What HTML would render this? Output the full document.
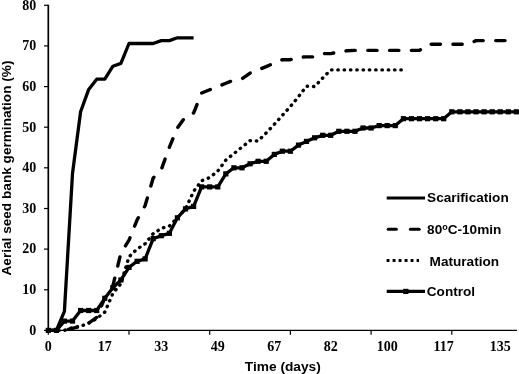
<!DOCTYPE html>
<html><head><meta charset="utf-8"><style>
html,body{margin:0;padding:0;background:#fff;}
body{width:519px;height:374px;overflow:hidden;}
svg{display:block;}
.ser{font-family:"Liberation Serif",serif;font-weight:bold;font-size:14px;fill:#000;}
.sans{font-family:"Liberation Sans",sans-serif;font-weight:bold;font-size:13.6px;fill:#000;}
</style></head><body>
<svg style="will-change:transform" width="519" height="374" viewBox="0 0 519 374">
<rect width="519" height="374" fill="#fff"/>
<g stroke="#000" stroke-width="1.2" fill="none">
<line x1="48.3" x2="48.3" y1="4.7" y2="331" stroke-width="1.7"/>
<line x1="47.5" x2="517" y1="330.4" y2="330.4" stroke-width="1.3"/>
<line x1="44" x2="48.3" y1="330.4" y2="330.4"/><line x1="44" x2="48.3" y1="289.8" y2="289.8"/><line x1="44" x2="48.3" y1="249.1" y2="249.1"/><line x1="44" x2="48.3" y1="208.5" y2="208.5"/><line x1="44" x2="48.3" y1="167.8" y2="167.8"/><line x1="44" x2="48.3" y1="127.2" y2="127.2"/><line x1="44" x2="48.3" y1="86.6" y2="86.6"/><line x1="44" x2="48.3" y1="45.9" y2="45.9"/><line x1="44" x2="48.3" y1="5.3" y2="5.3"/><line x1="48.3" x2="48.3" y1="330.4" y2="334.8"/><line x1="129.0" x2="129.0" y1="330.4" y2="334.8"/><line x1="209.7" x2="209.7" y1="330.4" y2="334.8"/><line x1="290.4" x2="290.4" y1="330.4" y2="334.8"/><line x1="371.1" x2="371.1" y1="330.4" y2="334.8"/><line x1="451.8" x2="451.8" y1="330.4" y2="334.8"/>
</g>
<g class="ser"><text x="36.3" y="334.7" text-anchor="end">0</text><text x="36.3" y="294.1" text-anchor="end">10</text><text x="36.3" y="253.4" text-anchor="end">20</text><text x="36.3" y="212.8" text-anchor="end">30</text><text x="36.3" y="172.1" text-anchor="end">40</text><text x="36.3" y="131.5" text-anchor="end">50</text><text x="36.3" y="90.9" text-anchor="end">60</text><text x="36.3" y="50.2" text-anchor="end">70</text><text x="36.3" y="9.6" text-anchor="end">80</text><text x="48.3" y="350.9" text-anchor="middle">0</text><text x="104.8" y="350.9" text-anchor="middle">17</text><text x="161.3" y="350.9" text-anchor="middle">33</text><text x="217.8" y="350.9" text-anchor="middle">49</text><text x="274.3" y="350.9" text-anchor="middle">67</text><text x="330.8" y="350.9" text-anchor="middle">82</text><text x="387.2" y="350.9" text-anchor="middle">100</text><text x="443.7" y="350.9" text-anchor="middle">117</text><text x="500.2" y="350.9" text-anchor="middle">135</text></g>
<text class="sans" transform="translate(10.7,275.5) rotate(-90)" textLength="215" lengthAdjust="spacingAndGlyphs">Aerial seed bank germination (%)</text>
<text class="sans" x="244.8" y="370.6" textLength="76" lengthAdjust="spacingAndGlyphs">Time (days)</text>
<g fill="none" stroke="#000" stroke-linejoin="round">
<polyline points="48.3,330.4 56.4,330.4 64.4,311.3 72.5,173.5 80.6,111.8 88.7,89.4 96.7,79.2 104.8,79.2 112.9,66.2 120.9,63.4 129.0,43.5 137.1,43.5 145.1,43.5 153.2,43.5 161.3,40.6 169.4,40.6 177.4,37.8 185.5,37.8 193.6,37.8" stroke-width="3.3"/>
<polyline points="48.3,330.4 56.4,330.4 64.4,330.4 72.5,328.4 80.6,326.3 88.7,323.1 96.7,317.4 104.8,297.9 112.9,285.7 120.9,253.2 129.0,240.2 137.1,219.9 145.1,205.6 153.2,178.0 161.3,169.5 169.4,147.1 177.4,128.0 185.5,116.6 193.6,113.0 201.6,93.1 209.7,89.8 217.8,86.6 225.8,83.3 233.9,80.1 242.0,78.8 250.1,73.1 258.1,69.9 266.2,66.6 274.3,63.0 282.3,59.7 290.4,59.7 298.5,57.3 306.5,56.9 314.6,56.9 322.7,53.6 330.8,53.6 338.8,52.0 346.9,50.8 355.0,50.4 363.0,50.4 371.1,50.4 379.2,50.4 387.2,50.4 395.3,50.4 403.4,50.4 411.5,50.4 419.5,50.4 427.6,44.3 435.7,44.3 443.7,44.3 451.8,44.3 459.9,44.3 467.9,44.3 476.0,40.6 484.1,40.6 492.2,40.6 500.2,40.6 508.3,40.6" stroke-width="3.4" stroke-dasharray="9.3 12.5" stroke-dashoffset="1.6" stroke-linecap="round"/>
<polyline points="48.3,330.4 56.4,330.4 64.4,330.4 72.5,327.6 80.6,326.3 88.7,323.1 96.7,318.6 104.8,312.1 112.9,293.4 120.9,283.7 129.0,256.8 137.1,249.1 145.1,243.8 153.2,233.7 161.3,228.4 169.4,226.0 177.4,217.8 185.5,208.9 193.6,191.4 201.6,180.8 209.7,177.6 217.8,171.1 225.8,160.1 233.9,153.6 242.0,147.1 250.1,140.6 258.1,141.0 266.2,132.9 274.3,124.4 282.3,115.4 290.4,106.5 298.5,96.7 306.5,86.2 314.6,86.6 322.7,78.0 330.8,69.9 338.8,69.9 346.9,69.9 355.0,69.9 363.0,69.9 371.1,69.9 379.2,69.9 387.2,69.9 395.3,69.9 403.4,69.9" stroke-width="3.4" stroke-dasharray="0.4 5.9" stroke-dashoffset="2.2" stroke-linecap="round"/>
<polyline points="48.3,330.4 56.4,330.4 64.4,321.1 72.5,321.1 80.6,310.5 88.7,310.5 96.7,310.5 104.8,298.3 112.9,287.7 120.9,280.0 129.0,267.4 137.1,261.3 145.1,258.9 153.2,238.6 161.3,235.7 169.4,233.3 177.4,217.8 185.5,208.9 193.6,206.4 201.6,186.9 209.7,186.9 217.8,186.9 225.8,173.9 233.9,167.8 242.0,167.8 250.1,163.8 258.1,161.3 266.2,161.3 274.3,154.4 282.3,151.2 290.4,151.2 298.5,145.1 306.5,141.4 314.6,137.8 322.7,135.3 330.8,135.3 338.8,131.3 346.9,131.3 355.0,131.3 363.0,128.0 371.1,128.0 379.2,125.6 387.2,125.6 395.3,125.6 403.4,118.7 411.5,118.7 419.5,118.7 427.6,118.7 435.7,118.7 443.7,118.7 451.8,111.8 459.9,111.8 467.9,111.8 476.0,111.8 484.1,111.8 492.2,111.8 500.2,111.8 508.3,111.8 516.4,111.8 524.4,111.8" stroke-width="3.3"/>
</g>
<g fill="#000"><rect x="45.7" y="327.8" width="5.2" height="5.2"/><rect x="53.8" y="327.8" width="5.2" height="5.2"/><rect x="61.8" y="318.5" width="5.2" height="5.2"/><rect x="69.9" y="318.5" width="5.2" height="5.2"/><rect x="78.0" y="307.9" width="5.2" height="5.2"/><rect x="86.1" y="307.9" width="5.2" height="5.2"/><rect x="94.1" y="307.9" width="5.2" height="5.2"/><rect x="102.2" y="295.7" width="5.2" height="5.2"/><rect x="110.3" y="285.1" width="5.2" height="5.2"/><rect x="118.3" y="277.4" width="5.2" height="5.2"/><rect x="126.4" y="264.8" width="5.2" height="5.2"/><rect x="134.5" y="258.7" width="5.2" height="5.2"/><rect x="142.5" y="256.3" width="5.2" height="5.2"/><rect x="150.6" y="236.0" width="5.2" height="5.2"/><rect x="158.7" y="233.1" width="5.2" height="5.2"/><rect x="166.8" y="230.7" width="5.2" height="5.2"/><rect x="174.8" y="215.2" width="5.2" height="5.2"/><rect x="182.9" y="206.3" width="5.2" height="5.2"/><rect x="191.0" y="203.8" width="5.2" height="5.2"/><rect x="199.0" y="184.3" width="5.2" height="5.2"/><rect x="207.1" y="184.3" width="5.2" height="5.2"/><rect x="215.2" y="184.3" width="5.2" height="5.2"/><rect x="223.2" y="171.3" width="5.2" height="5.2"/><rect x="231.3" y="165.2" width="5.2" height="5.2"/><rect x="239.4" y="165.2" width="5.2" height="5.2"/><rect x="247.5" y="161.2" width="5.2" height="5.2"/><rect x="255.5" y="158.7" width="5.2" height="5.2"/><rect x="263.6" y="158.7" width="5.2" height="5.2"/><rect x="271.7" y="151.8" width="5.2" height="5.2"/><rect x="279.7" y="148.6" width="5.2" height="5.2"/><rect x="287.8" y="148.6" width="5.2" height="5.2"/><rect x="295.9" y="142.5" width="5.2" height="5.2"/><rect x="303.9" y="138.8" width="5.2" height="5.2"/><rect x="312.0" y="135.2" width="5.2" height="5.2"/><rect x="320.1" y="132.7" width="5.2" height="5.2"/><rect x="328.1" y="132.7" width="5.2" height="5.2"/><rect x="336.2" y="128.7" width="5.2" height="5.2"/><rect x="344.3" y="128.7" width="5.2" height="5.2"/><rect x="352.4" y="128.7" width="5.2" height="5.2"/><rect x="360.4" y="125.4" width="5.2" height="5.2"/><rect x="368.5" y="125.4" width="5.2" height="5.2"/><rect x="376.6" y="123.0" width="5.2" height="5.2"/><rect x="384.6" y="123.0" width="5.2" height="5.2"/><rect x="392.7" y="123.0" width="5.2" height="5.2"/><rect x="400.8" y="116.1" width="5.2" height="5.2"/><rect x="408.9" y="116.1" width="5.2" height="5.2"/><rect x="416.9" y="116.1" width="5.2" height="5.2"/><rect x="425.0" y="116.1" width="5.2" height="5.2"/><rect x="433.1" y="116.1" width="5.2" height="5.2"/><rect x="441.1" y="116.1" width="5.2" height="5.2"/><rect x="449.2" y="109.2" width="5.2" height="5.2"/><rect x="457.3" y="109.2" width="5.2" height="5.2"/><rect x="465.3" y="109.2" width="5.2" height="5.2"/><rect x="473.4" y="109.2" width="5.2" height="5.2"/><rect x="481.5" y="109.2" width="5.2" height="5.2"/><rect x="489.6" y="109.2" width="5.2" height="5.2"/><rect x="497.6" y="109.2" width="5.2" height="5.2"/><rect x="505.7" y="109.2" width="5.2" height="5.2"/><rect x="513.8" y="109.2" width="5.2" height="5.2"/><rect x="521.8" y="109.2" width="5.2" height="5.2"/></g>
<g fill="none" stroke="#000">
<line x1="386.7" x2="425" y1="197.9" y2="197.9" stroke-width="3"/>
<line x1="388.2" x2="396.4" y1="229.2" y2="229.2" stroke-width="3" stroke-linecap="round"/>
<line x1="410.4" x2="419.2" y1="229.2" y2="229.2" stroke-width="3" stroke-linecap="round"/>
<line x1="386.6" x2="419" y1="260.6" y2="260.6" stroke-width="3" stroke-dasharray="2.9 3.1"/>
<line x1="386.7" x2="425" y1="291.4" y2="291.4" stroke-width="3.2"/>
</g>
<rect x="403.2" y="288.8" width="5.2" height="5.2" fill="#000"/>
<g class="sans">
<text x="427.1" y="202.4">Scarification</text>
<text x="427.1" y="233.7">80<tspan font-size="9" dy="-3.5">o</tspan><tspan dy="3.5">C-10min</tspan></text>
<text x="429.6" y="266">Maturation</text>
<text x="426.8" y="296.3">Control</text>
</g>
</svg>
</body></html>
